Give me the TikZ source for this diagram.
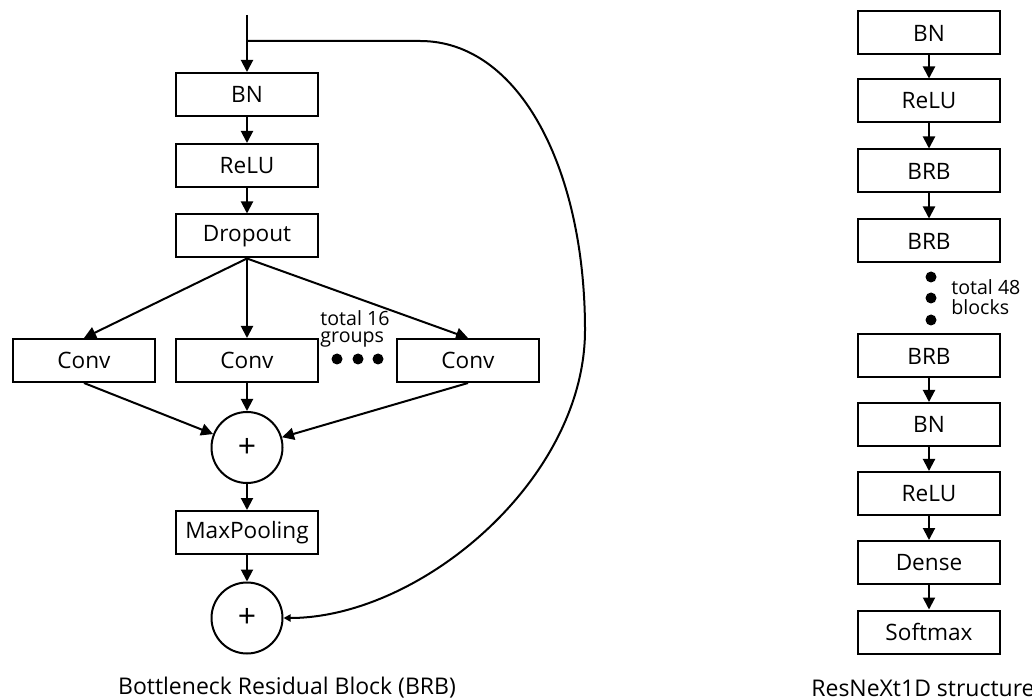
\documentclass[tikz,border=0pt]{standalone}
\usepackage{fontspec}
\setmainfont{Open Sans}
\usetikzlibrary{arrows.meta}

\begin{document}
\begin{tikzpicture}[x=0.5pt,y=-0.5pt]
\tikzstyle{blk}=[rectangle, draw, line width=1pt, minimum width=71pt,
                        minimum height=21.5pt, inner sep=0pt, font=\fontsize{11.3}{12}\selectfont]
\tikzstyle{add}=[circle, draw, line width=1pt, minimum size=35.5pt,
                        inner sep=0pt, font=\fontsize{16}{16}\selectfont]
\tikzstyle{arr}=[-{Triangle[length=6pt,width=6pt]}, line width=1pt]
\tikzstyle{dot}=[circle, fill, inner sep=0pt, minimum size=5.5pt]
\tikzstyle{note}=[font=\fontsize{9.8}{8.8}\selectfont, align=left, inner sep=0pt]
\tikzstyle{captxt}=[font=\fontsize{11.5}{13}\selectfont, inner sep=0pt]
\useasboundingbox (0,0) rectangle (1032,699);
% bottleneck residual block
	\coordinate (in) at (247,15);
	\coordinate (split) at (247,41);
	\coordinate (bend) at (420,41);
	\coordinate (far) at (585,330);
	\node[blk] (bn) at (247,94.5){BN};
	\node[blk] (relu) at (247,165.5){ReLU};
	\node[blk] (drop) at (247,236){Dropout};
	\node[blk] (conv1) at (84,360.5){Conv};
	\node[blk] (conv2) at (247,360.5){Conv};
	\node[blk] (conv3) at (468,360.5){Conv};
	\node[add] (sum) at (247,447.5){+};
	\node[blk] (pool) at (247,532.5){MaxPooling};
	\node[add] (res) at (247,618){+};
	\node[dot] (g1) at (337,359){};
	\node[dot] (g2) at (358,359){};
	\node[dot] (g3) at (378,359){};
	\node[note] (groups) at (355,329){total 16\\groups};
	\node[captxt] (brbcap) at (287,688){Bottleneck Residual Block (BRB)};
\draw[arr] (in)--(bn);
\draw[arr] (bn)--(relu);
\draw[arr] (relu)--(drop);
\draw[arr] (drop.south)--(conv1.north);
\draw[arr] (drop.south)--(conv2.north);
\draw[arr] (drop.south)--(conv3.north);
\draw[arr] (conv1.south)--(sum);
\draw[arr] (conv2.south)--(sum);
\draw[arr] (conv3.south)--(sum);
\draw[arr] (sum)--(pool);
\draw[arr] (pool)--(res);
\draw[line width=1pt, -{Triangle[length=3.5pt,width=3.5pt]}] (split)--(bend)
    .. controls (520,41) and (585,170) .. (far)
    .. controls (585,480) and (420,618) .. (res.east);
% resnext1d
	\node[blk] (bn1) at (929,33){BN};
	\node[blk] (relu1) at (929,101){ReLU};
	\node[blk] (brb1) at (929,171){BRB};
	\node[blk] (brb2) at (929,241){BRB};
	\node[dot] (b1) at (931,277){};
	\node[dot] (b2) at (931,298){};
	\node[dot] (b3) at (931,320){};
	\node[note, anchor=west] (blocks) at (951,297){total 48\\[1.2pt]blocks};
	\node[blk] (brb3) at (929,356){BRB};
	\node[blk] (bn2) at (929,424.5){BN};
	\node[blk] (relu2) at (929,493.5){ReLU};
	\node[blk] (dense) at (929,562.5){Dense};
	\node[blk] (soft) at (929,632){Softmax};
	\node[captxt] (rescap) at (923,688){ResNeXt1D structure};
\draw[arr] (bn1)--(relu1);
\draw[arr] (relu1)--(brb1);
\draw[arr] (brb1)--(brb2);
\draw[arr] (brb3)--(bn2);
\draw[arr] (bn2)--(relu2);
\draw[arr] (relu2)--(dense);
\draw[arr] (dense)--(soft);
\end{tikzpicture}
\end{document}
